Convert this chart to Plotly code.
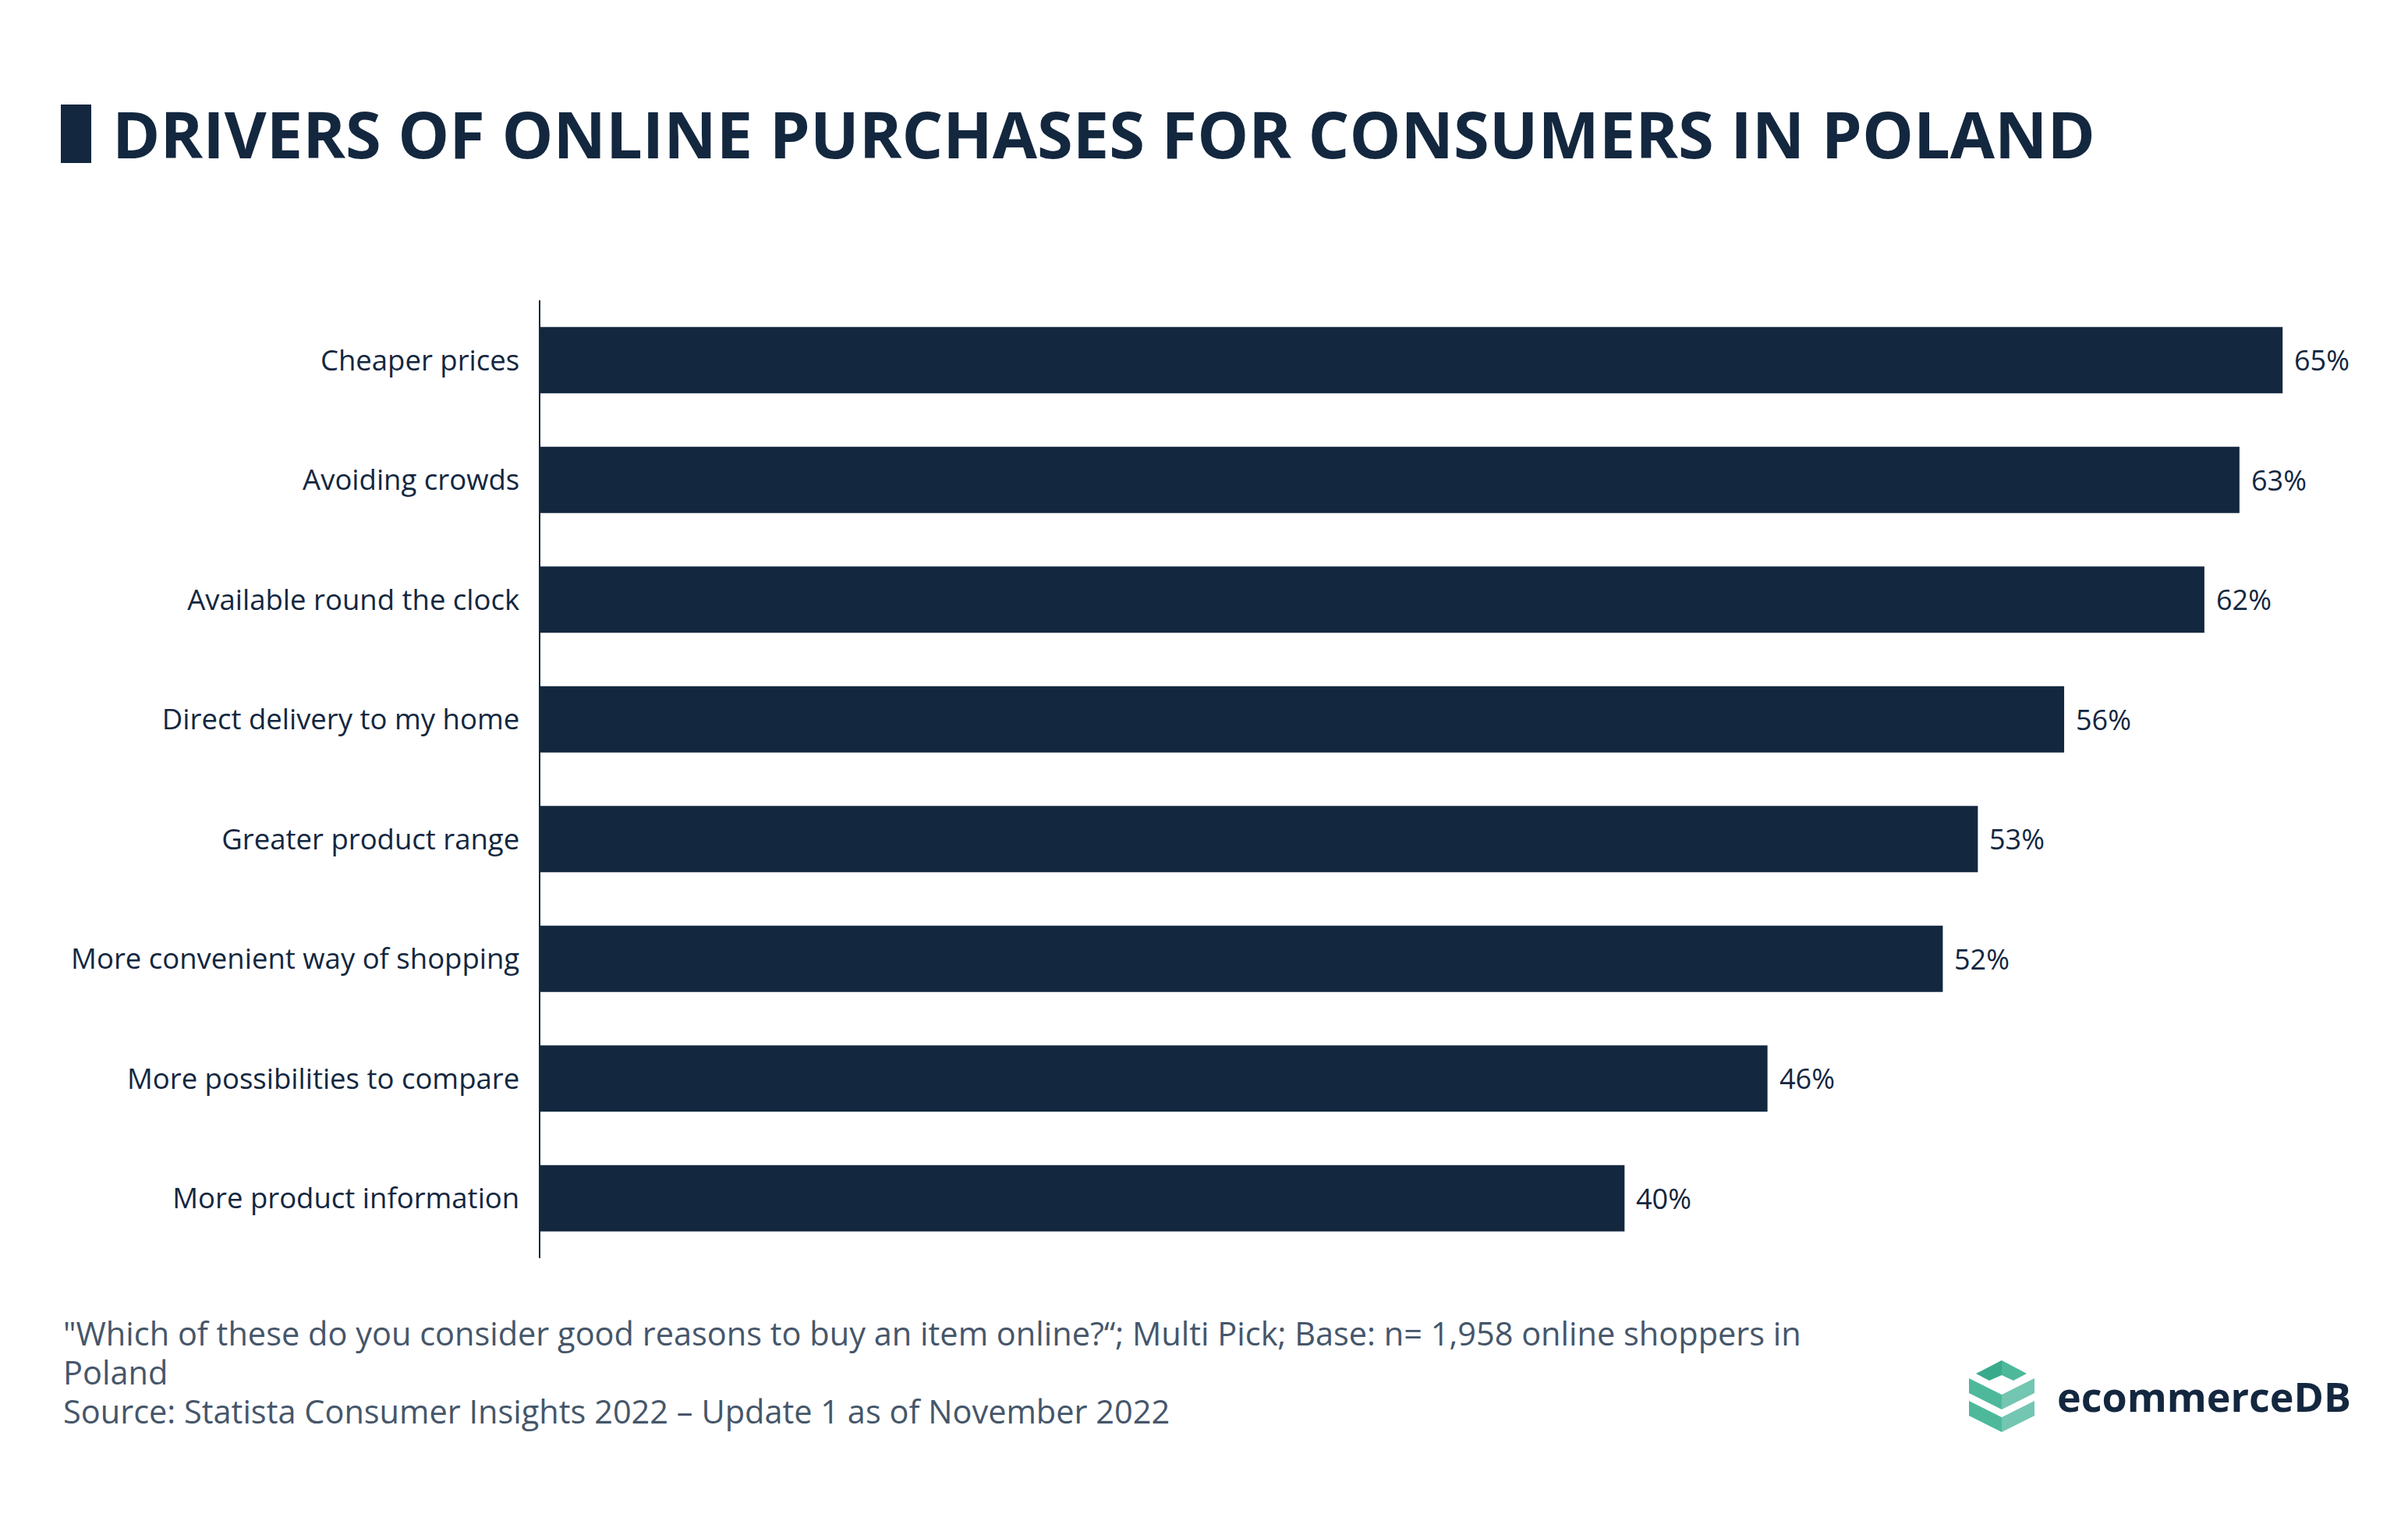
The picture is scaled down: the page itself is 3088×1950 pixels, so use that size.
import plotly.graph_objects as go

W, H = 3088, 1950

categories = [
    "Cheaper prices",
    "Avoiding crowds",
    "Available round the clock",
    "Direct delivery to my home",
    "Greater product range",
    "More convenient way of shopping",
    "More possibilities to compare",
    "More product information",
]
values = [64.6, 63.0, 61.7, 56.5, 53.3, 52.0, 45.5, 40.2]
value_labels = ["65%", "63%", "62%", "56%", "53%", "52%", "46%", "40%"]

title_text = "DRIVERS OF ONLINE PURCHASES FOR CONSUMERS IN POLAND"
footer_lines = [
    "\"Which of these do you consider good reasons to buy an item online?\u201c; Multi Pick; Base: n= 1,958 online shoppers in",
    "Poland",
    "Source: Statista Consumer Insights 2022 \u2013 Update 1 as of November 2022",
]

NAVY = "#13273F"
FOOT = "#46566A"
FONT = "Open Sans"

# plot area in pixels
L, R, T, B = 693, 78, 385, 337
PW = W - L - R
PH = H - T - B


def px(x):
    return (x - L) / PW


def py(y):
    return (H - B - y) / PH


fig = go.Figure()
fig.add_trace(go.Bar(
    x=values,
    y=categories,
    orientation="h",
    marker=dict(color=NAVY, line=dict(width=0)),
    width=0.555,
    hoverinfo="skip",
))

annotations = []
for c, v, t in zip(categories, values, value_labels):
    annotations.append(dict(
        x=v, y=c, xref="x", yref="y", text=t, showarrow=False,
        xanchor="left", yanchor="middle", xshift=13,
        font=dict(family=FONT, size=36, color=NAVY),
    ))

# footer
for i, line in enumerate(footer_lines):
    annotations.append(dict(
        x=px(79), y=py(1709 + 50 * i), xref="paper", yref="paper",
        text=line, showarrow=False, xanchor="left", yanchor="middle",
        font=dict(family=FONT, size=41.5, color=FOOT),
    ))

# logo text
annotations.append(dict(
    x=px(2636), y=py(1789), xref="paper", yref="paper",
    text="<b>ecommerceDB</b>", showarrow=False, xanchor="left", yanchor="middle",
    font=dict(family=FONT, size=52, color=NAVY),
))

shapes = []
# title marker rectangle
shapes.append(dict(type="rect", xref="paper", yref="paper",
                   x0=px(78), x1=px(117), y0=py(209), y1=py(134),
                   fillcolor=NAVY, line=dict(width=0)))


def poly(pts, color):
    d = "M " + " L ".join(f"{px(a):.5f},{py(b):.5f}" for a, b in pts) + " Z"
    return dict(type="path", xref="paper", yref="paper", path=d,
                fillcolor=color, line=dict(width=0))


cx = 2567
# top chevron
shapes.append(poly([(2534, 1761), (cx, 1744), (cx, 1763), (2551, 1770)], "#3AAA8D"))
shapes.append(poly([(cx, 1744), (2599, 1761), (2582, 1770), (cx, 1763)], "#4DB99A"))
# middle band
shapes.append(poly([(2525, 1767), (cx, 1788), (cx, 1807), (2525, 1786)], "#4DB99A"))
shapes.append(poly([(cx, 1788), (2609, 1767), (2609, 1786), (cx, 1807)], "#73C6B1"))
# bottom band
shapes.append(poly([(2525, 1796), (cx, 1817), (cx, 1836), (2525, 1815)], "#4DB99A"))
shapes.append(poly([(cx, 1817), (2609, 1796), (2609, 1815), (cx, 1836)], "#73C6B1"))

fig.update_layout(
    width=W, height=H,
    paper_bgcolor="white", plot_bgcolor="white",
    margin=dict(l=L, r=R, t=T, b=B, autoexpand=False),
    showlegend=False,
    title=dict(
        text=title_text, xref="container", yref="container",
        x=144 / W, y=1 - 174 / H, xanchor="left", yanchor="middle",
        font=dict(family=FONT, size=83, color=NAVY, weight="bold"),
    ),
    xaxis=dict(range=[0, PW / 34.585], showgrid=False, zeroline=False,
               showticklabels=False, showline=False, ticks=""),
    yaxis=dict(categoryorder="array", categoryarray=categories,
               range=[7.5, -0.5], showgrid=False, zeroline=False,
               showline=True, linecolor=NAVY, linewidth=2.5,
               ticks="", ticklabelstandoff=17,
               tickfont=dict(family=FONT, size=36.5, color=NAVY)),
    annotations=annotations,
    shapes=shapes,
)

fig.write_html("out.html",
               config={"displayModeBar": False, "staticPlot": True},
               post_script="document.body.style.margin='0';document.body.style.overflow='hidden';")
